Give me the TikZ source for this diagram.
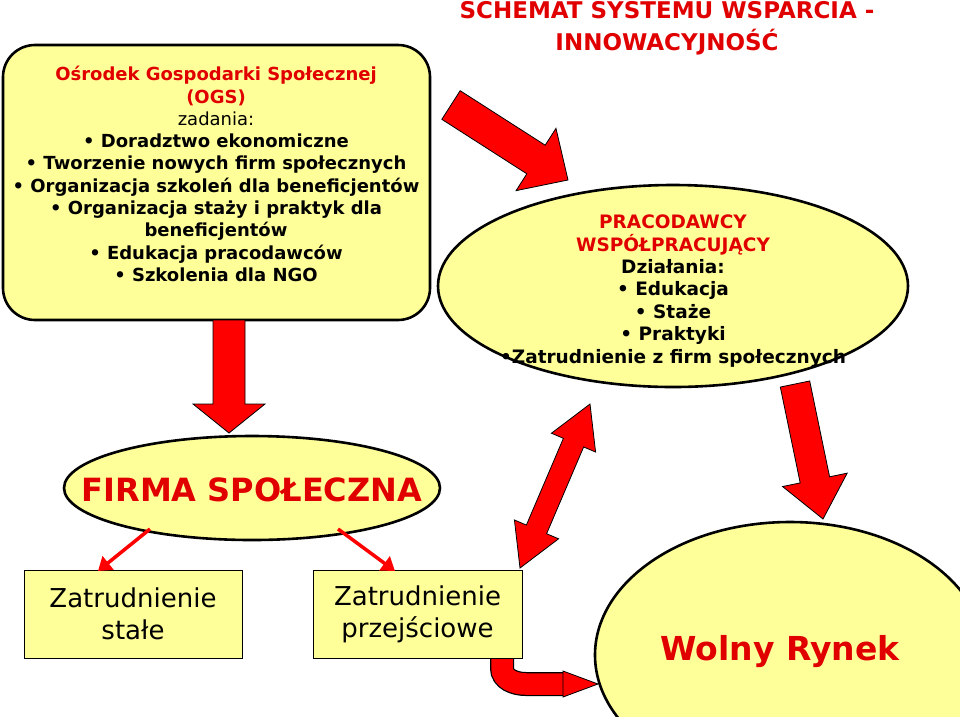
\documentclass[tikz,border=0pt]{standalone}
\usepackage{fontspec}
\setmainfont{DejaVu Sans}
\usetikzlibrary{calc,arrows.meta}
\definecolor{fillyel}{HTML}{FFFF99}
\definecolor{txtred}{HTML}{E00000}
\definecolor{arrred}{HTML}{FF0000}
\tikzset{
  yelshape/.style={fill=fillyel,draw=black,line width=2.6pt},
  blockarr/.style={fill=arrred,draw=black,line width=0.8pt,line join=miter},
  thinarr/.style={draw=arrred,line width=3.5pt,-{Triangle[length=13pt,width=17pt]}},
  smallbox/.style={fill=fillyel,draw=black,line width=0.8pt,minimum width=218pt,minimum height=88pt,inner sep=0pt,align=center,font=\fontsize{26}{32}\selectfont},
  txt/.style={align=center,inner sep=0pt}
}
\newcommand\blockarrow[5]{%
  \fill[blockarr] ($(#1)!#3!90:(#2)$) -- ($($(#2)!#5!(#1)$)!#3!-90:(#1)$) -- ($($(#2)!#5!(#1)$)!#4!-90:(#1)$) -- (#2)
  -- ($($(#2)!#5!(#1)$)!#4!90:(#1)$) -- ($($(#2)!#5!(#1)$)!#3!90:(#1)$) -- ($(#1)!#3!-90:(#2)$) -- cycle;}
\newcommand\doublearrow[5]{%
  \fill[blockarr] (#1) -- ($($(#1)!#5!(#2)$)!#4!90:(#2)$) -- ($($(#1)!#5!(#2)$)!#3!90:(#2)$)
  -- ($($(#2)!#5!(#1)$)!#3!-90:(#1)$) -- ($($(#2)!#5!(#1)$)!#4!-90:(#1)$) -- (#2)
  -- ($($(#2)!#5!(#1)$)!#4!90:(#1)$) -- ($($(#2)!#5!(#1)$)!#3!90:(#1)$)
  -- ($($(#1)!#5!(#2)$)!#3!-90:(#2)$) -- ($($(#1)!#5!(#2)$)!#4!-90:(#2)$) -- cycle;}
\begin{document}
\begin{tikzpicture}[x=1pt,y=-1pt]
\useasboundingbox (0,0) rectangle (960,716);
% title
\node[txt,font=\bfseries\fontsize{23}{32}\selectfont,text=txtred] (title) at (667,28) {SCHEMAT SYSTEMU WSPARCIA -\\INNOWACYJNOŚĆ};
% left box
\draw[yelshape,rounded corners=32pt] (3,45) rectangle (430,320);
\node[txt,font=\bfseries\fontsize{18}{22.3}\selectfont] (ogs) at (216,174) {%
  \textcolor{txtred}{Ośrodek Gospodarki Społecznej}\\
  \textcolor{txtred}{(OGS)}\\
  {\mdseries zadania:}\\
  • Doradztwo ekonomiczne\\
  • Tworzenie nowych firm społecznych\\
  • Organizacja szkoleń dla beneficjentów\\
  • Organizacja staży i praktyk dla\\
  beneficjentów\\
  • Edukacja pracodawców\\
  • Szkolenia dla NGO};
% ellipse pracodawcy
\draw[yelshape] (673,286) ellipse [x radius=235, y radius=101];
\node[txt,font=\bfseries\fontsize{18.5}{22.4}\selectfont] (prac) at (673,291) {%
  \textcolor{txtred}{PRACODAWCY}\\
  \textcolor{txtred}{WSPÓŁPRACUJĄCY}\\
  Działania:\\
  • Edukacja\\
  • Staże\\
  • Praktyki\\
  •Zatrudnienie z firm społecznych};
% firma ellipse
\draw[yelshape] (252,488) ellipse [x radius=188, y radius=52];
\node[txt,font=\bfseries\fontsize{32}{36}\selectfont,text=txtred] (firma) at (252,490) {FIRMA SPOŁECZNA};
% curved arrow (behind boxes)
\coordinate (cs) at (502,650);
\coordinate (ce) at (566,684);
\draw[black,line width=24pt] (cs) -- (502,668) to[out=-90,in=180] (526,684) -- (ce);
\draw[arrred,line width=21.5pt] (cs) -- (502,668) to[out=-90,in=180] (526,684) -- (ce);
\fill[blockarr] (563,671) -- (598,684) -- (563,697) -- cycle;
% small boxes
\node[smallbox] (b1) at (133,614) {Zatrudnienie\\stałe};
\node[smallbox,minimum width=209pt] (b2) at (417.5,614) {Zatrudnienie\\przejściowe};
% wolny rynek
\begin{scope}
\clip (0,0) rectangle (960,716);
\draw[yelshape] (790,655) ellipse [x radius=195, y radius=133];
\end{scope}
\node[txt,font=\bfseries\fontsize{33}{40}\selectfont,text=txtred] (rynek) at (780,652) {Wolny Rynek};
% block arrows
\coordinate (a1s) at (451,105);
\coordinate (a1t) at (568,180);
\blockarrow{a1s}{a1t}{17pt}{37pt}{38pt}
\coordinate (a2s) at (229,320);
\coordinate (a2t) at (229,433);
\blockarrow{a2s}{a2t}{16pt}{36pt}{29pt}
\coordinate (a3s) at (795,384);
\coordinate (a3t) at (823,519);
\blockarrow{a3s}{a3t}{15pt}{33pt}{40pt}
\coordinate (a4s) at (520,568);
\coordinate (a4t) at (590,404);
\doublearrow{a4s}{a4t}{11pt}{24pt}{42pt}
% thin arrows
\draw[thinarr] (150,529) -- (98,571);
\draw[thinarr] (338,529) -- (395,571);
\end{tikzpicture}
\end{document}
